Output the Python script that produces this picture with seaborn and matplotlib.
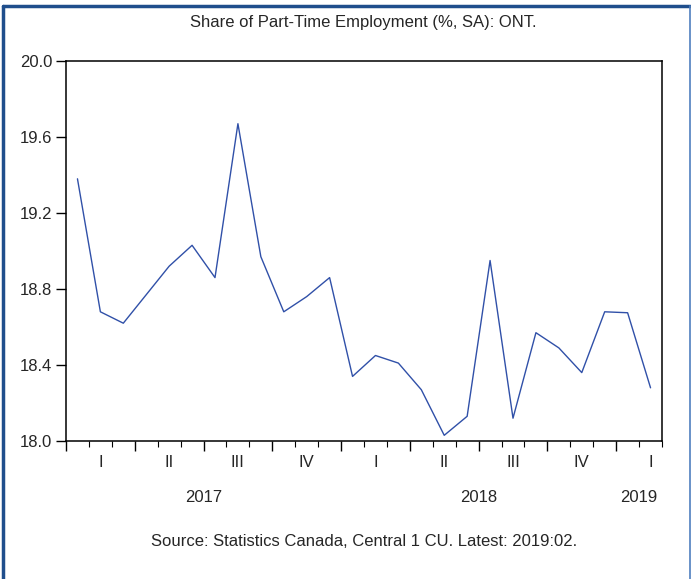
import matplotlib
matplotlib.use("Agg")
import matplotlib.pyplot as plt
import matplotlib.transforms as mtransforms
from matplotlib.lines import Line2D
import numpy as np
import pandas as pd
import seaborn as sns

# Data: monthly share of part-time employment, Ontario, 2017:01 - 2019:02
months = ["2017-01", "2017-02", "2017-03", "2017-04", "2017-05", "2017-06",
          "2017-07", "2017-08", "2017-09", "2017-10", "2017-11", "2017-12",
          "2018-01", "2018-02", "2018-03", "2018-04", "2018-05", "2018-06",
          "2018-07", "2018-08", "2018-09", "2018-10", "2018-11", "2018-12",
          "2019-01", "2019-02"]
share = [19.38, 18.68, 18.62, 18.77, 18.92, 19.03,
         18.86, 19.67, 18.97, 18.68, 18.76, 18.86,
         18.34, 18.45, 18.41, 18.27, 18.03, 18.13,
         18.95, 18.12, 18.57, 18.49, 18.36, 18.68,
         18.675, 18.28]
quarter_labels = ["I", "II", "III", "IV", "I", "II", "III", "IV", "I"]
year_labels = ["2017", "2018", "2019"]
y_ticks = [18.0, 18.4, 18.8, 19.2, 19.6, 20.0]

title = "Share of Part-Time Employment (%, SA): ONT."
source = "Source: Statistics Canada, Central 1 CU. Latest: 2019:02."

sns.set_style("ticks")
plt.rcParams["font.family"] = ["Liberation Sans", "DejaVu Sans"]
FS = 12

df = pd.DataFrame({"month": pd.to_datetime(months), "share": share})
df["idx"] = np.arange(len(df))

fig = plt.figure(figsize=(6.91, 5.79), dpi=100)
ax = fig.add_axes([66 / 691, 1 - 441 / 579, (662 - 66) / 691, (441 - 61) / 579])

sns.lineplot(data=df, x="idx", y="share", ax=ax, color="#3050A8", linewidth=1.0)

ax.set_xlim(-0.5, len(df) - 0.5)
ax.set_ylim(18.0, 20.0)
ax.set_yticks(y_ticks)
ax.set_yticklabels([f"{v:.1f}" for v in y_ticks], fontsize=FS)
ax.set_xlabel("")
ax.set_ylabel("")

# x ticks: major at quarter boundaries, minor at month boundaries
n = len(df)
bounds = np.arange(-0.5, n, 1.0)
major = [b for b in bounds if int(b + 0.5) % 3 == 0]
ax.set_xticks(major)
ax.set_xticklabels([])
ax.set_xticks(bounds, minor=True)
ax.tick_params(axis="x", which="major", length=7.5, width=1.0, direction="out", color="black")
ax.tick_params(axis="x", which="minor", length=4, width=0.8, direction="out", color="black")
ax.tick_params(axis="y", which="major", length=7, width=1.0, direction="out", color="black", pad=3)

for s in ax.spines.values():
    s.set_visible(True)
    s.set_color("black")
    s.set_linewidth(1.1)

trans = mtransforms.blended_transform_factory(ax.transData, fig.transFigure)
# quarter labels at quarter centres
q_centres = [q * 3 + 1 for q in range(len(quarter_labels))]
for xc, lab in zip(q_centres, quarter_labels):
    ax.text(xc, 1 - 462.5 / 579, lab, transform=trans, ha="center", va="center", fontsize=FS)
# year labels
years = df["month"].dt.year.values
for yl in year_labels:
    sel = df["idx"].values[years == int(yl)]
    xc = (sel.min() + sel.max()) / 2
    ax.text(xc, 1 - 497 / 579, yl, transform=trans, ha="center", va="center", fontsize=FS)

fig.text(363 / 691, 1 - 22 / 579, title, ha="center", va="center", fontsize=FS)
fig.text(364 / 691, 1 - 541.5 / 579, source, ha="center", va="center", fontsize=FS)

# blue frame around the figure (left, top, right)
fc = "#1F4E8C"
fig.add_artist(Line2D([3 / 691, 3 / 691], [0, 1 - 6 / 579], transform=fig.transFigure, color=fc, lw=2.5))
fig.add_artist(Line2D([3 / 691, 690 / 691], [1 - 6 / 579, 1 - 6 / 579], transform=fig.transFigure, color=fc, lw=2.5))
fig.add_artist(Line2D([689.5 / 691, 689.5 / 691], [0, 1 - 6 / 579], transform=fig.transFigure, color="#4F7FBF", lw=1.2))

fig.savefig("out.png", dpi=100)
